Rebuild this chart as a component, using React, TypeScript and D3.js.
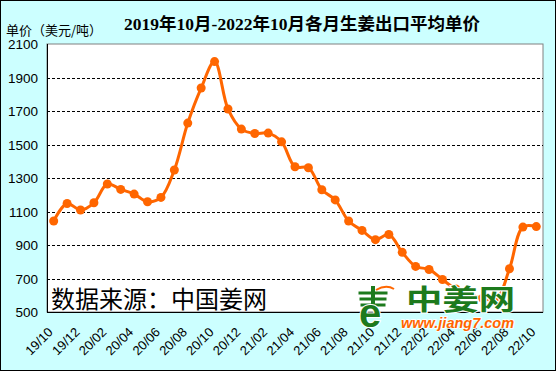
import React, { useEffect, useRef } from "react";
import * as d3 from "d3";

const months = [
  "19/10", "19/11", "19/12", "20/01", "20/02", "20/03", "20/04", "20/05", "20/06",
  "20/07", "20/08", "20/09", "20/10", "20/11", "20/12", "21/01", "21/02", "21/03",
  "21/04", "21/05", "21/06", "21/07", "21/08", "21/09", "21/10", "21/11", "21/12",
  "22/01", "22/02", "22/03", "22/04", "22/05", "22/06", "22/07", "22/08", "22/09", "22/10",
];

// average export price, USD / ton
const prices = [
  1043, 1148, 1109, 1152, 1264, 1232, 1204, 1158, 1184,
  1348, 1628, 1837, 1995, 1712, 1592, 1566, 1568, 1516,
  1367, 1361, 1230, 1169, 1043, 987, 932, 963, 856,
  772, 754, 694, 637, 605, 582, 572, 758, 1007, 1010,
];

const xTickLabels = [
  "19/10", "19/12", "20/02", "20/04", "20/06", "20/08", "20/10", "20/12", "21/02",
  "21/04", "21/06", "21/08", "21/10", "21/12", "22/02", "22/04", "22/06", "22/08", "22/10",
];
const yTicks = [500, 700, 900, 1100, 1300, 1500, 1700, 1900, 2100];

const W = 556;
const H = 372;

const App: React.FC = () => {
  const ref = useRef<SVGSVGElement>(null);

  useEffect(() => {
    if (!ref.current) return;
    const svg = d3.select(ref.current);
    svg.selectAll("*").remove();

    const plot = { left: 47, right: 543, top: 44, bottom: 312 };
    const x = d3.scaleBand<string>().domain(months).range([plot.left, plot.right]).padding(0);
    const y = d3.scaleLinear().domain([500, 2100]).range([plot.bottom, plot.top]);
    const cx = (m: string) => (x(m) ?? 0) + x.bandwidth() / 2;

    const sans = "'Liberation Sans', Arial, sans-serif";
    const cjk = "'Noto Sans CJK SC', sans-serif";

    // background + outer frame
    svg.append("rect")
      .attr("x", 0.5).attr("y", 0.5)
      .attr("width", W - 1).attr("height", H - 2)
      .attr("fill", "#ccffff")
      .attr("stroke", "#000");

    // plot area
    svg.append("rect")
      .attr("x", plot.left).attr("y", plot.top)
      .attr("width", plot.right - plot.left).attr("height", plot.bottom - plot.top)
      .attr("fill", "#fff")
      .attr("stroke", "#808080");

    // dashed gridlines
    svg.append("g")
      .selectAll("line")
      .data(yTicks.filter((t) => t > 500 && t < 2100))
      .join("line")
      .attr("x1", plot.left).attr("x2", plot.right)
      .attr("y1", (d) => Math.round(y(d)) + 0.5).attr("y2", (d) => Math.round(y(d)) + 0.5)
      .attr("stroke", "#000")
      .attr("stroke-dasharray", "3,2");

    // axis lines
    svg.append("line")
      .attr("x1", plot.left + 0.5).attr("x2", plot.left + 0.5)
      .attr("y1", plot.top).attr("y2", plot.bottom)
      .attr("stroke", "#000");
    svg.append("line")
      .attr("x1", plot.left).attr("x2", plot.right)
      .attr("y1", plot.bottom + 0.5).attr("y2", plot.bottom + 0.5)
      .attr("stroke", "#000");

    // y tick labels
    svg.append("g")
      .selectAll("text")
      .data(yTicks)
      .join("text")
      .attr("x", 38)
      .attr("y", (d) => y(d) + 5)
      .attr("text-anchor", "end")
      .attr("font-family", sans)
      .attr("font-size", 13.5)
      .attr("fill", "#000")
      .text((d) => d);

    // x tick labels
    svg.append("g")
      .selectAll("text")
      .data(xTickLabels)
      .join("text")
      .attr("transform", (d) => `translate(${cx(d)},333) rotate(-45)`)
      .attr("text-anchor", "end")
      .attr("font-family", sans)
      .attr("font-size", 13)
      .attr("fill", "#000")
      .text((d) => d);

    // title & unit
    svg.append("text")
      .attr("x", 302).attr("y", 30)
      .attr("text-anchor", "middle")
      .attr("font-family", "'Liberation Serif', 'Noto Sans CJK SC', serif")
      .attr("font-weight", "bold")
      .attr("font-size", 17.5)
      .attr("fill", "#000")
      .text("2019年10月-2022年10月各月生姜出口平均单价");
    svg.append("text")
      .attr("x", 6).attr("y", 35)
      .attr("font-family", cjk)
      .attr("font-size", 13)
      .attr("fill", "#000")
      .text("单价（美元/吨）");

    // source note
    svg.append("text")
      .attr("x", 51).attr("y", 308)
      .attr("font-family", cjk)
      .attr("font-size", 24)
      .attr("fill", "#000")
      .text("数据来源：中国姜网");

    // series
    const data = months.map((m, i) => ({ m, v: prices[i] }));
    const line = d3.line<{ m: string; v: number }>()
      .x((d) => cx(d.m))
      .y((d) => y(d.v))
      .curve(d3.curveCatmullRom.alpha(0.5));
    svg.append("path")
      .datum(data)
      .attr("fill", "none")
      .attr("stroke", "#ff6600")
      .attr("stroke-width", 3)
      .attr("d", line);
    svg.append("g")
      .selectAll("circle")
      .data(data)
      .join("circle")
      .attr("cx", (d) => cx(d.m))
      .attr("cy", (d) => y(d.v))
      .attr("r", 4.5)
      .attr("fill", "#ff6600");

    // watermark logo
    const logo = svg.append("g");
    const green = "#1d7a1d";
    [291, 297, 303].forEach((yy, i) => {
      logo.append("rect")
        .attr("x", 358 + i).attr("y", yy)
        .attr("width", 30 - i * 2).attr("height", 4)
        .attr("fill", green)
        .attr("stroke", "#fff").attr("stroke-width", 1);
    });
    logo.append("rect").attr("x", 371).attr("y", 286).attr("width", 4).attr("height", 20).attr("fill", green);
    logo.append("path")
      .attr("d", "M376,290 Q386,284 394,289")
      .attr("fill", "none").attr("stroke", "#ff6600").attr("stroke-width", 2);
    logo.append("text")
      .attr("x", 359).attr("y", 327)
      .attr("font-family", sans)
      .attr("font-weight", "bold")
      .attr("font-size", 40)
      .attr("fill", green)
      .attr("stroke", "#fff")
      .attr("stroke-width", 2)
      .attr("paint-order", "stroke")
      .text("e");
    logo.append("text")
      .attr("transform", "translate(406,310) scale(1.3,1)")
      .attr("font-family", cjk)
      .attr("font-weight", "bold")
      .attr("font-size", 28)
      .attr("fill", green)
      .attr("stroke", "#fff")
      .attr("stroke-width", 2)
      .attr("paint-order", "stroke")
      .text("中姜网");
    logo.append("text")
      .attr("x", 401).attr("y", 328)
      .attr("font-family", sans)
      .attr("font-weight", "bold")
      .attr("font-style", "italic")
      .attr("font-size", 14.5)
      .attr("fill", "#ff6600")
      .attr("stroke", "#fff")
      .attr("stroke-width", 1.5)
      .attr("paint-order", "stroke")
      .text("www.jiang7.com");
  }, []);

  return (
    <svg
      ref={ref}
      width={W}
      height={H}
      style={{ position: "absolute", left: 0, top: 0, display: "block" }}
    />
  );
};

export default App;
